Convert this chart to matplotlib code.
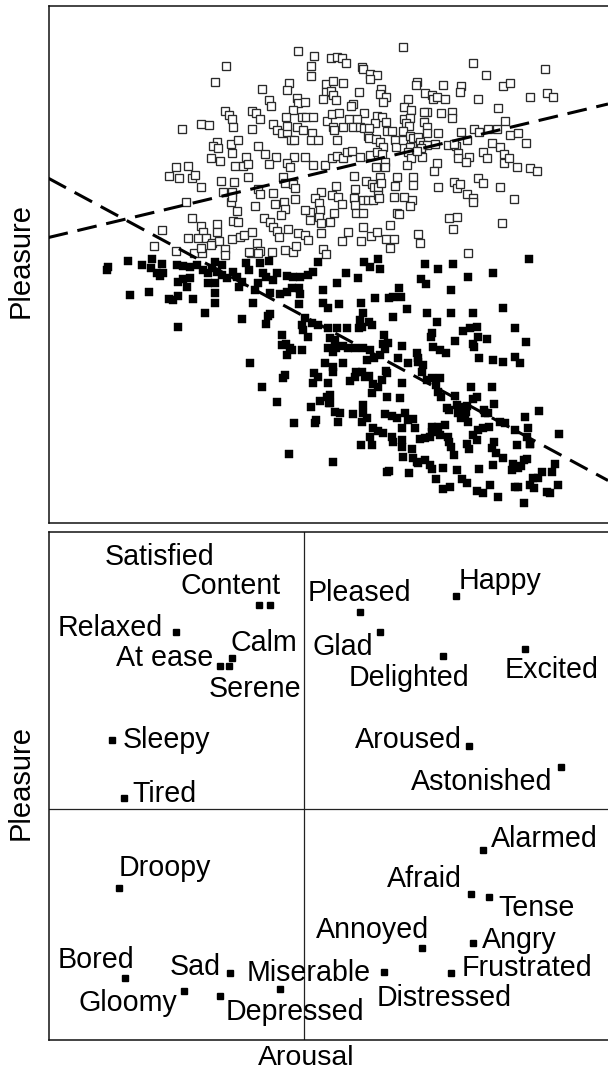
import numpy as np
import matplotlib
matplotlib.use("Agg")
import matplotlib.pyplot as plt

plt.rcParams["font.family"] = ["Liberation Sans", "DejaVu Sans"]

# ---- top panel: individual ratings (arousal, pleasure) ----
# high-pleasure group (open squares)
open_pts = [
    (298, 51), (226, 66), (215, 82), (289, 83), (287, 90), (262, 89), (269, 100), (271, 106),
    (297, 98), (298, 103), (293, 110), (286, 117), (225, 111), (229, 115), (232, 119), (233, 127),
    (252, 111), (256, 113), (260, 119), (252, 129), (182, 129), (201, 124), (209, 125), (273, 124),
    (277, 130), (282, 133), (287, 132), (291, 140), (294, 140), (287, 126), (297, 127), (217, 142),
    (213, 146), (218, 148), (231, 144), (238, 140), (258, 146), (232, 153), (211, 158), (220, 161),
    (246, 157), (235, 166), (243, 166), (248, 164), (265, 154), (276, 157), (269, 164), (294, 157),
    (287, 163), (290, 167), (176, 167), (188, 166), (169, 176), (179, 178), (192, 178), (195, 175),
    (201, 187), (221, 181), (234, 182), (248, 177), (232, 192), (223, 192), (231, 202), (232, 197),
    (258, 189), (260, 194), (273, 193), (283, 177), (285, 183), (293, 184), (295, 188), (186, 202),
    (237, 211), (233, 221), (238, 222), (255, 206), (275, 204), (284, 202), (285, 209), (281, 215),
    (295, 199), (192, 218), (201, 226), (203, 232), (217, 224), (217, 232), (264, 218), (270, 222),
    (273, 227), (277, 231), (279, 237), (288, 229), (298, 233), (162, 230), (188, 238), (198, 238),
    (206, 238), (212, 243), (219, 241), (225, 249), (232, 239), (240, 237), (244, 235), (252, 232),
    (257, 243), (260, 251), (251, 253), (258, 253), (272, 252), (285, 250), (293, 252), (296, 246),
    (194, 253), (202, 253), (201, 248), (154, 246), (176, 251), (211, 245), (225, 255), (249, 252),
    (403, 47), (314, 56), (331, 58), (337, 57), (342, 58), (346, 63), (311, 66), (311, 76),
    (362, 67), (363, 69), (370, 74), (377, 75), (370, 79), (473, 63), (486, 75), (545, 69),
    (326, 84), (333, 81), (343, 83), (326, 92), (331, 91), (333, 95), (323, 99), (336, 100),
    (359, 92), (381, 89), (380, 94), (386, 97), (383, 102), (417, 82), (416, 85), (443, 85),
    (461, 86), (460, 92), (425, 93), (432, 95), (433, 99), (437, 97), (445, 99), (503, 86),
    (510, 83), (478, 99), (530, 97), (547, 93), (553, 97), (498, 108), (305, 102), (353, 104),
    (351, 106), (364, 113), (408, 99), (404, 107), (411, 110), (427, 112), (424, 112), (441, 113),
    (452, 112), (452, 118), (377, 116), (382, 117), (386, 122), (375, 123), (404, 119), (410, 118),
    (406, 123), (409, 126), (424, 122), (427, 127), (302, 117), (306, 117), (313, 117), (327, 121),
    (332, 114), (339, 113), (333, 127), (343, 127), (349, 119), (357, 119), (353, 127), (360, 127),
    (364, 128), (369, 128), (303, 130), (312, 133), (311, 140), (318, 140), (334, 130), (337, 140),
    (368, 136), (369, 138), (376, 139), (380, 142), (383, 147), (387, 131), (392, 131), (395, 140),
    (396, 147), (403, 131), (403, 140), (410, 136), (413, 138), (418, 137), (420, 142), (423, 145),
    (427, 133), (427, 145), (438, 133), (435, 144), (448, 145), (456, 146), (461, 132), (467, 140),
    (474, 129), (479, 132), (488, 129), (497, 129), (505, 121), (510, 135), (518, 133), (526, 143),
    (492, 143), (483, 152), (487, 158), (500, 147), (504, 154), (504, 163), (509, 158), (517, 167),
    (530, 168), (537, 171), (454, 144), (458, 153), (458, 158), (469, 157), (466, 162), (437, 163),
    (434, 171), (410, 147), (408, 152), (411, 158), (422, 157), (421, 148), (417, 151), (407, 165),
    (305, 157), (313, 165), (325, 165), (332, 158), (337, 156), (343, 158), (347, 152), (352, 151),
    (360, 157), (370, 155), (377, 152), (382, 154), (385, 162), (385, 167), (376, 167), (354, 176),
    (355, 189), (366, 181), (372, 184), (374, 187), (380, 177), (378, 187), (381, 183), (397, 177),
    (395, 186), (413, 177), (413, 185), (438, 187), (454, 182), (457, 188), (460, 184), (467, 194),
    (473, 198), (473, 202), (478, 178), (483, 183), (500, 187), (514, 199), (336, 186), (332, 195),
    (338, 197), (342, 204), (321, 192), (315, 198), (319, 203), (320, 210), (310, 212), (305, 210),
    (354, 198), (363, 200), (368, 200), (373, 200), (378, 195), (379, 198), (394, 197), (404, 197),
    (412, 200), (410, 206), (397, 213), (399, 214), (355, 205), (356, 213), (363, 213), (334, 213),
    (319, 217), (310, 220), (321, 223), (330, 222), (449, 218), (457, 217), (453, 229), (502, 223),
    (348, 232), (363, 227), (371, 236), (377, 232), (390, 225), (386, 239), (394, 239), (390, 248),
    (418, 234), (420, 243), (342, 241), (361, 241), (321, 233), (305, 235), (308, 240), (323, 249),
    (326, 254), (468, 253),
]

# low-pleasure group (filled squares)
filled_pts = [
    (107, 270), (108, 267), (128, 261), (142, 265), (152, 259), (151, 268), (162, 264), (157, 273),
    (163, 273), (160, 276), (130, 295), (149, 292), (177, 265), (183, 266), (190, 267), (197, 265),
    (178, 282), (183, 279), (187, 287), (190, 278), (169, 299), (173, 300), (178, 296), (193, 299),
    (205, 313), (178, 327), (203, 270), (208, 273), (212, 268), (215, 262), (217, 272), (222, 265),
    (208, 283), (215, 283), (222, 275), (227, 278), (233, 272), (237, 277), (242, 282), (239, 287),
    (215, 293), (215, 303), (246, 263), (249, 270), (260, 263), (269, 261), (263, 273), (266, 277),
    (258, 283), (255, 290), (273, 280), (277, 273), (253, 303), (242, 319), (270, 293), (280, 294),
    (287, 292), (292, 288), (299, 288), (300, 294), (299, 304), (287, 276), (293, 277), (300, 277),
    (308, 275), (313, 272), (318, 262), (270, 314), (268, 316), (266, 324), (282, 335), (282, 345),
    (286, 344), (290, 348), (287, 355), (292, 350), (302, 350), (305, 318), (302, 325), (303, 330),
    (308, 337), (312, 323), (318, 325), (328, 328), (323, 290), (323, 303), (328, 308), (328, 348),
    (250, 363), (285, 375), (283, 378), (314, 373), (318, 377), (313, 383), (328, 383), (325, 363),
    (262, 387), (277, 402), (294, 423), (311, 407), (320, 401), (327, 397), (329, 403), (316, 420),
    (315, 423), (289, 454), (350, 381),
    (529, 259), (364, 262), (378, 259), (370, 267), (380, 269), (346, 273), (337, 283), (358, 278),
    (425, 264), (438, 269), (453, 264), (421, 279), (426, 284), (468, 277), (493, 273), (451, 290),
    (399, 288), (393, 297), (389, 298), (401, 297), (375, 298), (339, 304), (361, 303), (407, 309),
    (427, 313), (451, 313), (473, 313), (503, 308), (363, 313), (360, 320), (369, 322), (372, 325),
    (362, 327), (359, 328), (347, 328), (337, 328), (393, 317), (437, 322), (515, 328), (463, 331),
    (470, 328), (477, 327), (478, 337), (487, 339), (473, 344), (474, 347), (432, 333), (431, 337),
    (455, 341), (433, 347), (440, 350), (446, 353), (384, 335), (383, 344), (388, 343), (385, 349),
    (402, 346), (526, 342), (330, 338), (335, 340), (343, 346), (348, 348), (355, 348), (336, 348),
    (333, 352), (363, 348), (370, 350), (374, 358), (367, 360), (380, 355), (398, 358), (408, 363),
    (417, 353), (418, 358), (422, 372), (423, 365), (418, 362), (479, 358), (493, 360), (503, 362),
    (515, 357), (520, 363), (343, 363), (333, 367), (333, 372), (356, 372), (355, 377), (362, 372),
    (365, 377), (369, 376), (373, 384), (372, 393), (378, 387), (382, 380), (387, 373), (386, 371),
    (402, 383), (400, 398), (387, 397), (427, 380), (432, 378), (440, 378), (436, 385), (438, 392),
    (441, 397), (455, 396), (471, 387), (492, 387), (477, 397), (473, 399), (494, 404), (447, 408),
    (449, 410), (457, 405), (462, 407), (467, 406), (466, 412), (465, 417), (458, 413), (461, 418),
    (468, 422), (485, 413), (484, 410), (488, 413), (500, 422), (505, 423), (515, 430), (525, 417),
    (528, 428), (539, 411), (527, 437), (530, 444), (559, 434), (330, 395), (330, 403), (335, 412),
    (340, 413), (338, 422), (353, 414), (363, 405), (363, 413), (362, 422), (367, 418), (385, 414),
    (392, 416), (397, 418), (405, 413), (408, 420), (413, 419), (415, 428), (402, 428), (373, 428),
    (378, 431), (383, 433), (370, 437), (372, 445), (361, 445), (392, 437), (393, 442), (402, 440),
    (402, 447), (403, 457), (412, 449), (413, 458), (417, 462), (420, 439), (425, 438), (430, 437),
    (432, 427), (438, 427), (445, 425), (432, 432), (440, 435), (448, 437), (449, 442), (451, 447),
    (454, 455), (467, 444), (469, 449), (473, 435), (477, 440), (478, 430), (483, 428), (489, 427),
    (494, 442), (492, 448), (496, 453), (503, 458), (493, 465), (517, 445), (527, 459), (530, 444),
    (513, 464), (512, 470), (518, 468), (521, 466), (524, 460), (418, 463), (425, 460), (430, 465),
    (432, 469), (443, 468), (457, 470), (479, 469), (333, 462), (387, 472), (389, 471), (409, 473),
    (436, 479), (443, 489), (450, 487), (462, 479), (467, 483), (477, 491), (483, 493), (490, 485),
    (498, 497), (524, 503), (515, 487), (518, 487), (530, 485), (534, 488), (533, 478), (538, 478),
    (542, 472), (552, 472), (555, 464), (558, 485), (550, 493), (547, 492),
]

# dashed regression lines: pleasure at the left / right end of the arousal range
line_ends_x = [48.5, 608]
open_fit_y = [237.5, 104]
filled_fit_y = [178.3, 480.5]

# ---- bottom panel: affect words (arousal, pleasure) ----
words = ["Satisfied", "Content", "Relaxed", "At ease", "Serene", "Calm", "Sleepy", "Tired",
         "Pleased", "Happy", "Glad", "Delighted", "Excited", "Aroused", "Astonished",
         "Alarmed", "Droopy", "Afraid", "Tense", "Angry", "Annoyed", "Frustrated",
         "Miserable", "Bored", "Sad", "Gloomy", "Depressed", "Distressed"]
word_x = [259, 270, 176, 220, 228.5, 232, 111.5, 123.5,
          360, 455.5, 379.5, 443, 524.5, 468.5, 560.5,
          483, 119, 471, 489, 473, 422, 451,
          384, 124.5, 229.5, 184, 220, 280]
word_y = [605, 605, 632, 665.5, 666, 657.5, 740, 797.5,
          611.5, 596, 632, 655.5, 648.5, 745.5, 767,
          850, 887.5, 894, 896.5, 942.5, 948, 973,
          971.5, 977.5, 973, 990.5, 996, 989]
quad_x = 304
quad_y = 809

# label placement (left edge, baseline) for each word
label_pos = {
    "Satisfied": (104.5, 565), "Content": (180.5, 594.5), "Relaxed": (57.5, 636),
    "At ease": (116, 666.5), "Calm": (231, 651), "Serene": (209, 697),
    "Sleepy": (122.5, 748.5), "Tired": (132.5, 802), "Pleased": (307.5, 601),
    "Happy": (458.5, 589), "Glad": (313, 655), "Delighted": (349, 686),
    "Excited": (504.5, 678), "Aroused": (355, 748.5), "Astonished": (410.5, 789.5),
    "Alarmed": (491, 847), "Droopy": (119, 876.5), "Afraid": (387, 887),
    "Tense": (498.5, 916.5), "Annoyed": (315.5, 938.5), "Angry": (482, 947.5),
    "Bored": (57.5, 967.5), "Sad": (169.5, 975), "Miserable": (246.5, 981),
    "Frustrated": (462, 976.5), "Gloomy": (78, 1011), "Depressed": (225.5, 1020),
    "Distressed": (377, 1006.5),
}

W, H = 608, 1075
fig = plt.figure(figsize=(W / 100, H / 100), dpi=100)

x_lo, x_hi = 48.5, 610


def axes_box(top_px, bottom_px):
    return [x_lo / W, 1 - bottom_px / H, (x_hi - x_lo) / W, (bottom_px - top_px) / H]


# top scatter
ax1 = fig.add_axes(axes_box(5.5, 523))
op = np.array(open_pts, dtype=float)
fp = np.array(filled_pts, dtype=float)
ax1.plot(op[:, 0], op[:, 1], "s", ms=5.6, mfc="white", mec="#2a2a2a", mew=0.95, zorder=2)
ax1.plot(fp[:, 0], fp[:, 1], "s", ms=5.9, mfc="black", mec="black", mew=0.3, zorder=2)
for fy in (open_fit_y, filled_fit_y):
    ax1.plot(line_ends_x, fy, color="black", lw=2.2, dashes=(6.5, 3.2), zorder=3)
ax1.set_xlim(x_lo, x_hi)
ax1.set_ylim(523, 5.5)

# bottom word map
ax2 = fig.add_axes(axes_box(532, 1040))
ax2.axvline(quad_x, color="#222222", lw=0.9, zorder=1)
ax2.axhline(quad_y, color="#222222", lw=0.9, zorder=1)
ax2.plot(word_x, word_y, "s", ms=3.8, color="black", zorder=2)
for w in words:
    lx, ly = label_pos[w]
    ax2.text(lx, ly, w, ha="left", va="baseline", fontsize=20.6, zorder=3)
ax2.set_xlim(x_lo, x_hi)
ax2.set_ylim(1040, 532)

for ax in (ax1, ax2):
    ax.set_xticks([])
    ax.set_yticks([])
    for s in ax.spines.values():
        s.set_linewidth(1.1)
        s.set_color("#111111")

fig.text(21 / W, 1 - 261 / H, "Pleasure", rotation=90, ha="center", va="center", fontsize=21)
fig.text(21 / W, 1 - 782 / H, "Pleasure", rotation=90, ha="center", va="center", fontsize=21)
fig.text(306 / W, 1 - 1058 / H, "Arousal", ha="center", va="center", fontsize=20.5)

fig.savefig("out.png", dpi=100)
